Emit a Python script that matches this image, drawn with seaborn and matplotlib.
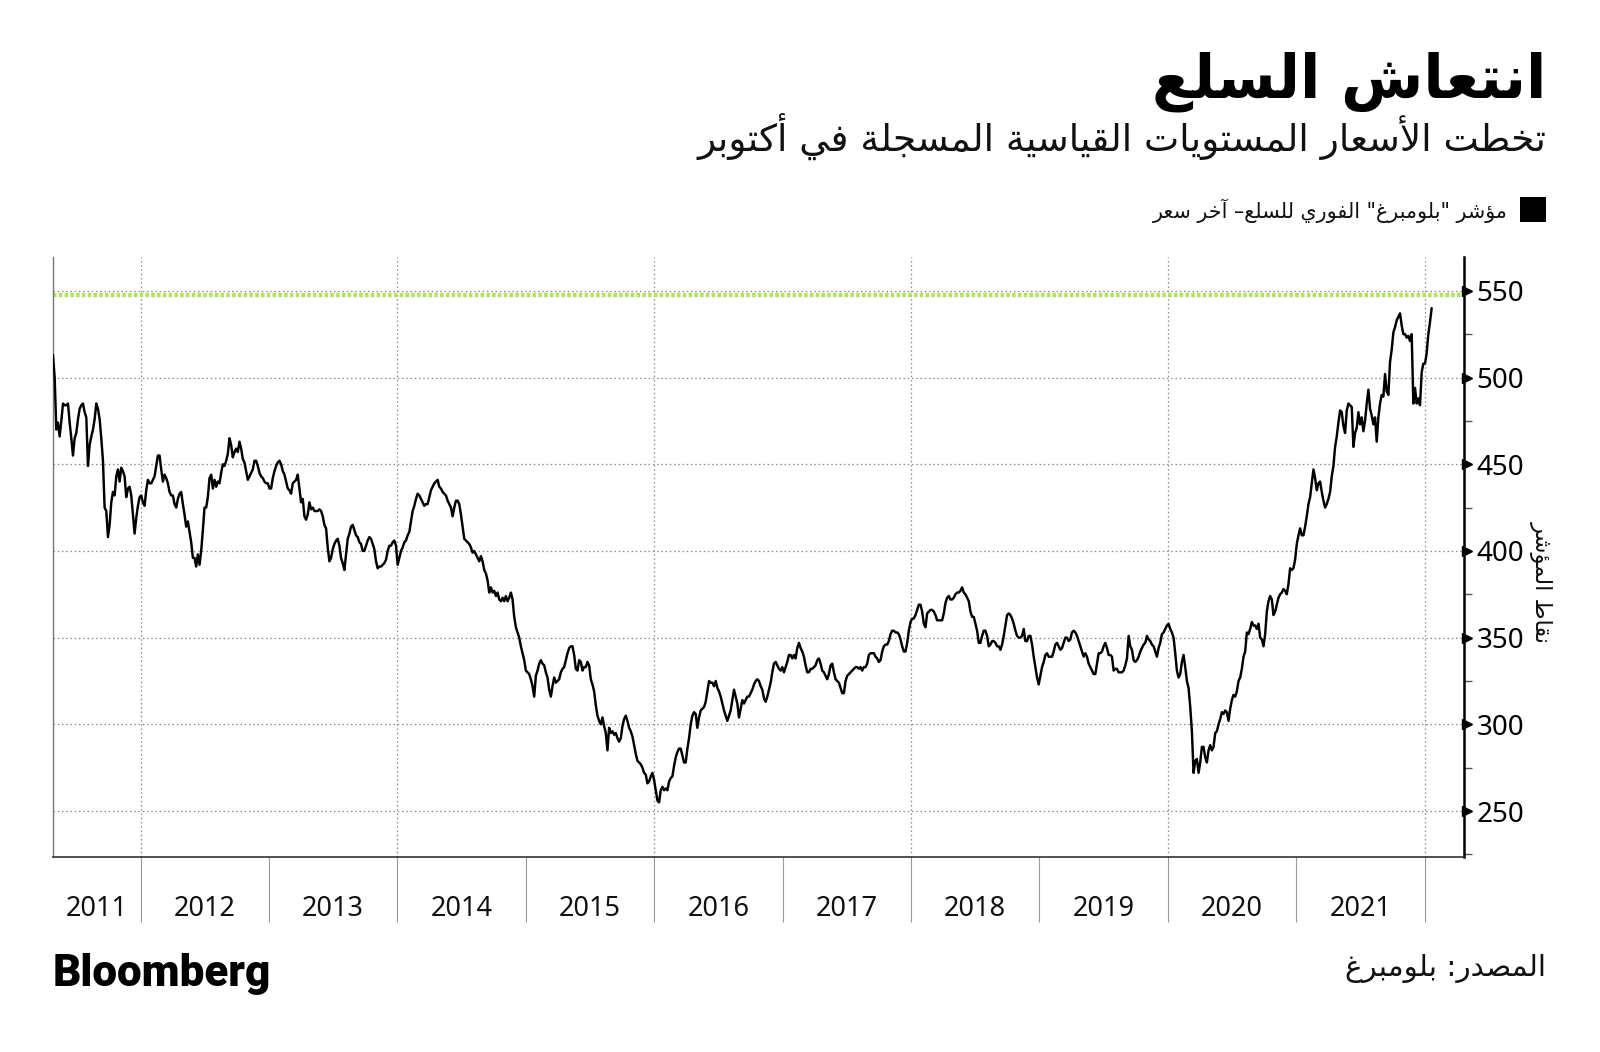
import numpy as np
import pandas as pd
import matplotlib
matplotlib.use("Agg")
import matplotlib.pyplot as plt
import matplotlib.transforms as mtransforms
from matplotlib.patches import Rectangle
import seaborn as sns

# ---------------- data ----------------
seg_2011_2013 = [513, 500, 470, 474, 466, 475, 485, 484, 484, 485, 474, 465, 455, 465, 468, 476, 482, 484, 485, 480,
                 477, 449, 461, 466, 470, 476, 485, 482, 476, 465, 452, 425, 423, 408, 415, 428, 434, 432, 443, 447,
                 440, 448, 446, 443, 431, 436, 437, 432, 421, 410, 419, 426, 431, 432, 428, 426, 435, 441, 439, 439,
                 441, 443, 449, 455, 455, 447, 440, 444, 442, 439, 434, 432, 432, 427, 425, 430, 433, 434, 427, 421,
                 414, 417, 411, 405, 396, 396, 391, 398, 392, 400, 412, 425, 425, 431, 442, 444, 436, 441, 437, 440,
                 439, 445, 450, 449, 452, 456, 465, 461, 454, 457, 459, 457, 463, 459, 453, 451, 446, 441, 443, 445,
                 447, 452, 452, 449, 445, 443, 442, 440, 439, 439, 436, 436, 442, 446, 449, 451, 452, 450, 446, 444,
                 440]
seg_2013_2014 = [436, 435, 433, 439, 440, 441, 444, 436, 428, 430, 420, 418, 421, 428, 424, 425, 423, 423, 423, 424,
                 423, 420, 415, 413, 402, 394, 396, 401, 404, 406, 407, 403, 396, 393, 389, 398, 407, 410, 414, 415,
                 412, 409, 408, 405, 404, 400, 400, 403, 406, 408, 407, 404, 401, 394, 390, 391, 391, 392, 393, 395,
                 400, 403, 403, 405, 406, 403, 392, 396, 400, 402, 405, 406, 409, 411, 417, 423, 426, 430, 433, 432,
                 430, 428, 426, 427, 427, 431, 435, 437, 439, 440, 441, 437, 436, 434, 433, 432, 429, 427, 425, 420,
                 425, 429, 429, 427, 421, 414, 407, 406, 405, 404, 402, 399, 400, 398, 396, 394, 397, 394, 389, 387,
                 383, 376, 379, 376, 377, 374, 376, 372, 371, 373, 371, 374, 371, 373]
seg_2014_2016 = [376, 372, 362, 356, 353, 350, 345, 341, 337, 331, 330, 329, 326, 322, 316, 328, 331, 335, 337, 335,
                 334, 330, 327, 320, 316, 322, 327, 324, 325, 326, 330, 332, 333, 337, 341, 344, 345, 345, 340, 332,
                 331, 337, 336, 331, 333, 333, 336, 334, 326, 323, 319, 311, 305, 302, 300, 304, 299, 295, 285, 298,
                 295, 296, 294, 295, 292, 290, 292, 299, 303, 305, 302, 298, 296, 293, 288, 283, 279, 278, 277, 275,
                 272, 271, 266, 267, 270, 272, 268, 262, 256, 255, 262, 264, 262, 263, 262, 267, 269, 270, 276, 281,
                 284, 286, 286, 282, 278, 278, 286, 292, 300, 305, 307, 306, 298, 304, 308, 309, 310, 313, 319, 325,
                 324, 324, 322, 325, 321, 319, 316, 312, 308, 305, 302, 305, 308, 314, 320, 316, 312, 304, 309, 314]
seg_2016_2018 = [312, 314, 316, 316, 318, 320, 323, 325, 326, 325, 322, 320, 315, 313, 316, 320, 324, 330, 335, 336,
                 334, 332, 331, 333, 330, 333, 336, 340, 340, 338, 340, 338, 344, 347, 344, 342, 339, 334, 330, 330,
                 332, 332, 333, 334, 337, 338, 335, 331, 330, 328, 326, 329, 334, 335, 330, 326, 325, 324, 321, 318,
                 318, 325, 328, 329, 330, 331, 332, 333, 333, 332, 333, 331, 333, 333, 335, 340, 341, 341, 341, 339,
                 338, 336, 337, 342, 345, 346, 346, 348, 352, 354, 354, 353, 353, 352, 349, 345, 342, 342, 347, 354,
                 359, 361, 361, 363, 366, 369, 369, 365, 358, 356, 364, 365, 366, 366, 365, 363, 360, 360, 360, 360,
                 364, 370, 373, 374, 372, 372, 373, 375, 376, 376, 377, 379, 376, 375, 373, 371, 365, 362, 362, 358,
                 354, 347]
seg_2018_2020 = [347, 351, 354, 354, 351, 345, 346, 348, 348, 347, 345, 345, 343, 346, 351, 357, 363, 364, 363, 361,
                 358, 354, 351, 350, 350, 351, 355, 348, 348, 351, 351, 346, 339, 333, 327, 323, 328, 333, 336, 340,
                 341, 339, 339, 339, 342, 346, 347, 345, 343, 344, 347, 350, 350, 348, 349, 353, 354, 353, 351, 348,
                 345, 342, 339, 341, 339, 335, 333, 331, 329, 329, 335, 341, 341, 342, 345, 347, 344, 340, 340, 339,
                 331, 332, 332, 330, 330, 330, 331, 334, 338, 351, 345, 343, 337, 336, 337, 339, 342, 344, 346, 347,
                 351, 349, 348, 346, 345, 342, 339, 344, 347, 352, 353, 355, 357, 358, 355, 353, 350, 341, 331, 327,
                 329, 336, 340, 333, 325, 321, 310, 296, 272, 279, 280, 272, 278, 287, 287, 281, 278, 285, 288]
seg_2020_2022 = [285, 287, 295, 296, 300, 303, 307, 306, 308, 307, 302, 309, 314, 317, 316, 319, 325, 327, 332, 339,
                 342, 353, 352, 355, 359, 357, 357, 355, 358, 350, 349, 345, 352, 365, 371, 374, 372, 363, 365, 369,
                 373, 375, 376, 378, 377, 375, 381, 390, 389, 390, 395, 404, 409, 413, 409, 409, 414, 420, 427, 431,
                 439, 447, 442, 435, 439, 440, 434, 429, 425, 427, 430, 434, 443, 449, 460, 466, 474, 481, 480, 472,
                 468, 481, 485, 484, 483, 460, 468, 471, 480, 473, 477, 469, 475, 485, 493, 482, 478, 473, 477, 463,
                 477, 485, 490, 489, 502, 492, 490, 509, 516, 526, 529, 533, 535, 537, 530, 525, 525, 523, 524, 521,
                 525, 485, 494, 485, 488, 484, 503, 508, 508, 514, 525, 532, 540]

index_values = (seg_2011_2013 + seg_2013_2014 + seg_2014_2016 +
                seg_2016_2018 + seg_2018_2020 + seg_2020_2022)
first_date = "2011-04-27"
last_date = "2022-01-21"
record_level = 547.5
y_ticks = [250, 300, 350, 400, 450, 500, 550]
y_minor = [225, 275, 325, 375, 425, 475, 525]
year_labels = [str(y) for y in range(2011, 2022)]

title_text = "انتعاش السلع"
subtitle_text = "تخطت الأسعار المستويات القياسية المسجلة في أكتوبر"
legend_text = 'مؤشر "بلومبرغ" الفوري للسلع– آخر سعر'
ylabel_text = "نقاط المؤشر"
source_text = "المصدر: بلومبرغ"

# ---------------- minimal Arabic shaping (matplotlib has no shaping) ----------------
DUAL = {0x0626: 0xFE89, 0x0628: 0xFE8F, 0x062A: 0xFE95, 0x062B: 0xFE99, 0x062C: 0xFE9D, 0x062D: 0xFEA1,
        0x062E: 0xFEA5, 0x0633: 0xFEB1, 0x0634: 0xFEB5, 0x0635: 0xFEB9, 0x0636: 0xFEBD, 0x0637: 0xFEC1,
        0x0638: 0xFEC5, 0x0639: 0xFEC9, 0x063A: 0xFECD, 0x0641: 0xFED1, 0x0642: 0xFED5, 0x0643: 0xFED9,
        0x0644: 0xFEDD, 0x0645: 0xFEE1, 0x0646: 0xFEE5, 0x0647: 0xFEE9, 0x064A: 0xFEF1}
RIGHT = {0x0622: 0xFE81, 0x0623: 0xFE83, 0x0624: 0xFE85, 0x0625: 0xFE87, 0x0627: 0xFE8D, 0x0629: 0xFE93,
         0x062F: 0xFEA9, 0x0630: 0xFEAB, 0x0631: 0xFEAD, 0x0632: 0xFEAF, 0x0648: 0xFEED, 0x0649: 0xFEEF}
LAMALEF = {"آ": 0xFEF5, "أ": 0xFEF7, "إ": 0xFEF9, "ا": 0xFEFB}


def ar(s):
    toks = []
    i = 0
    while i < len(s):
        if s[i] == "ل" and i + 1 < len(s) and s[i + 1] in LAMALEF:
            toks.append(("LA", s[i + 1]))
            i += 2
        else:
            toks.append(("C", s[i]))
            i += 1

    def jt(t):
        if t[0] == "LA":
            return "R"
        o = ord(t[1])
        if o in DUAL:
            return "D"
        if o in RIGHT:
            return "R"
        return "U"

    res = []
    for k, t in enumerate(toks):
        typ = jt(t)
        jp = typ in "DR" and k > 0 and jt(toks[k - 1]) == "D"
        jn = typ == "D" and k + 1 < len(toks) and jt(toks[k + 1]) in "DR"
        if t[0] == "LA":
            res.append(chr(LAMALEF[t[1]] + (1 if jp else 0)))
            continue
        o = ord(t[1])
        if o in DUAL:
            b = DUAL[o]
            res.append(chr(b + 3 if (jp and jn) else b + 1 if jp else b + 2 if jn else b))
        elif o in RIGHT:
            b = RIGHT[o]
            res.append(chr(b + 1 if jp else b))
        elif o == 0x0621:
            res.append(chr(0xFE80))
        else:
            res.append(t[1])
    return "".join(reversed(res))


# ---------------- figure ----------------
sns.set_theme(style="white")
plt.rcParams["font.family"] = ["DejaVu Sans"]
W, H = 1600, 1052
fig = plt.figure(figsize=(W / 100, H / 100), dpi=100)
fig.patch.set_facecolor("white")
L, R, T, B = 53, 1464, 257, 857
ax = fig.add_axes([L / W, 1 - B / H, (R - L) / W, (B - T) / H])

dates = pd.date_range(first_date, last_date, periods=len(index_values))
df = pd.DataFrame({"date": dates, "value": index_values})

# grid
for yv in y_ticks:
    ax.axhline(yv, color="#8a8a8a", lw=0.9, ls=(0, (1.2, 2.2)), zorder=1)
for yr in range(2012, 2023, 2):
    ax.axvline(pd.Timestamp(f"{yr}-01-01"), color="#8a8a8a", lw=0.9, ls=(0, (1.2, 2.2)), zorder=1)
ax.axhline(record_level, color="#b4e25a", lw=3.2, ls=(0, (0.8, 0.5)), zorder=2)

sns.lineplot(data=df, x="date", y="value", ax=ax, color="black", lw=1.75, estimator=None, zorder=3)

ax.set_xlim(pd.Timestamp(first_date), pd.Timestamp("2022-04-23"))
ax.set_ylim(223.5, 569.5)
ax.set_xlabel("")
ax.set_ylabel("")

# spines
ax.spines["top"].set_visible(False)
ax.spines["left"].set_color("#777777")
ax.spines["left"].set_linewidth(1.0)
ax.spines["bottom"].set_color("#333333")
ax.spines["bottom"].set_linewidth(1.2)
ax.spines["right"].set_color("black")
ax.spines["right"].set_linewidth(1.8)

# y axis on the right
ax.yaxis.tick_right()
ax.set_yticks(y_ticks)
ax.set_yticklabels([str(v) for v in y_ticks], fontfamily=["Noto Sans", "DejaVu Sans"], fontsize=20)
ax.set_yticks(y_minor, minor=True)
ax.tick_params(axis="y", which="both", left=False, right=True)
ax.tick_params(axis="y", which="major", length=0, pad=9, colors="black")
ax.tick_params(axis="y", which="minor", length=6, width=1, color="#555555", direction="out")
tri_tr = mtransforms.blended_transform_factory(ax.transAxes, ax.transData) + \
    mtransforms.ScaledTranslation(3.5 / 100, 0, fig.dpi_scale_trans)
ax.plot([1.0] * len(y_ticks), y_ticks, transform=tri_tr, marker=">", ms=6.5, ls="none",
        color="black", clip_on=False, zorder=5)

# x axis: long year separators and centred labels
year_starts = [pd.Timestamp(f"{y}-01-01") for y in range(2012, 2023)]
label_pos = [pd.Timestamp("2011-08-29")] + [pd.Timestamp(f"{y}-07-02") for y in range(2012, 2022)]
ax.set_xticks(year_starts)
ax.set_xticklabels([""] * len(year_starts))
ax.set_xticks(label_pos, minor=True)
ax.set_xticklabels(year_labels, minor=True, fontfamily=["Noto Sans", "DejaVu Sans"], fontsize=19.5)
ax.tick_params(axis="x", which="both", bottom=True, top=False)
ax.tick_params(axis="x", which="major", length=47, width=0.8, color="#9a9a9a", direction="out")
ax.tick_params(axis="x", which="minor", length=0, pad=27, colors="#111111")

# ---------------- texts ----------------
renderer = fig.canvas.get_renderer()


def fit_text(x_px, y_px, s, width_px, ha="right", rotation=0, **kw):
    t = fig.text(x_px / W, 1 - y_px / H, s, fontsize=20, ha=ha, rotation=rotation, **kw)
    bb = t.get_window_extent(renderer)
    w = bb.height if rotation else bb.width
    t.set_fontsize(20 * width_px / w)
    return t


fit_text(1546, 97, ar(title_text), 395, va="baseline", fontweight="bold", color="black")
fit_text(1546, 151, ar(subtitle_text), 849, va="baseline", color="#111111")
fit_text(1508, 218, ar(legend_text), 355, va="baseline", color="#111111")
fig.patches.append(Rectangle((1520 / W, 1 - 222 / H), 26 / W, 25 / H, transform=fig.transFigure,
                             facecolor="black", edgecolor="none"))
fit_text(1541, 582, ar(ylabel_text), 122, ha="center", va="center", rotation=270, color="#111111")
fit_text(1546, 976, ar(source_text), 201, va="baseline", color="#111111")
fit_text(53, 986, "Bloomberg", 219, ha="left", va="baseline", fontweight="black",
         fontfamily=["Roboto", "DejaVu Sans"], color="black")

fig.savefig("out.png", dpi=100, facecolor="white")
